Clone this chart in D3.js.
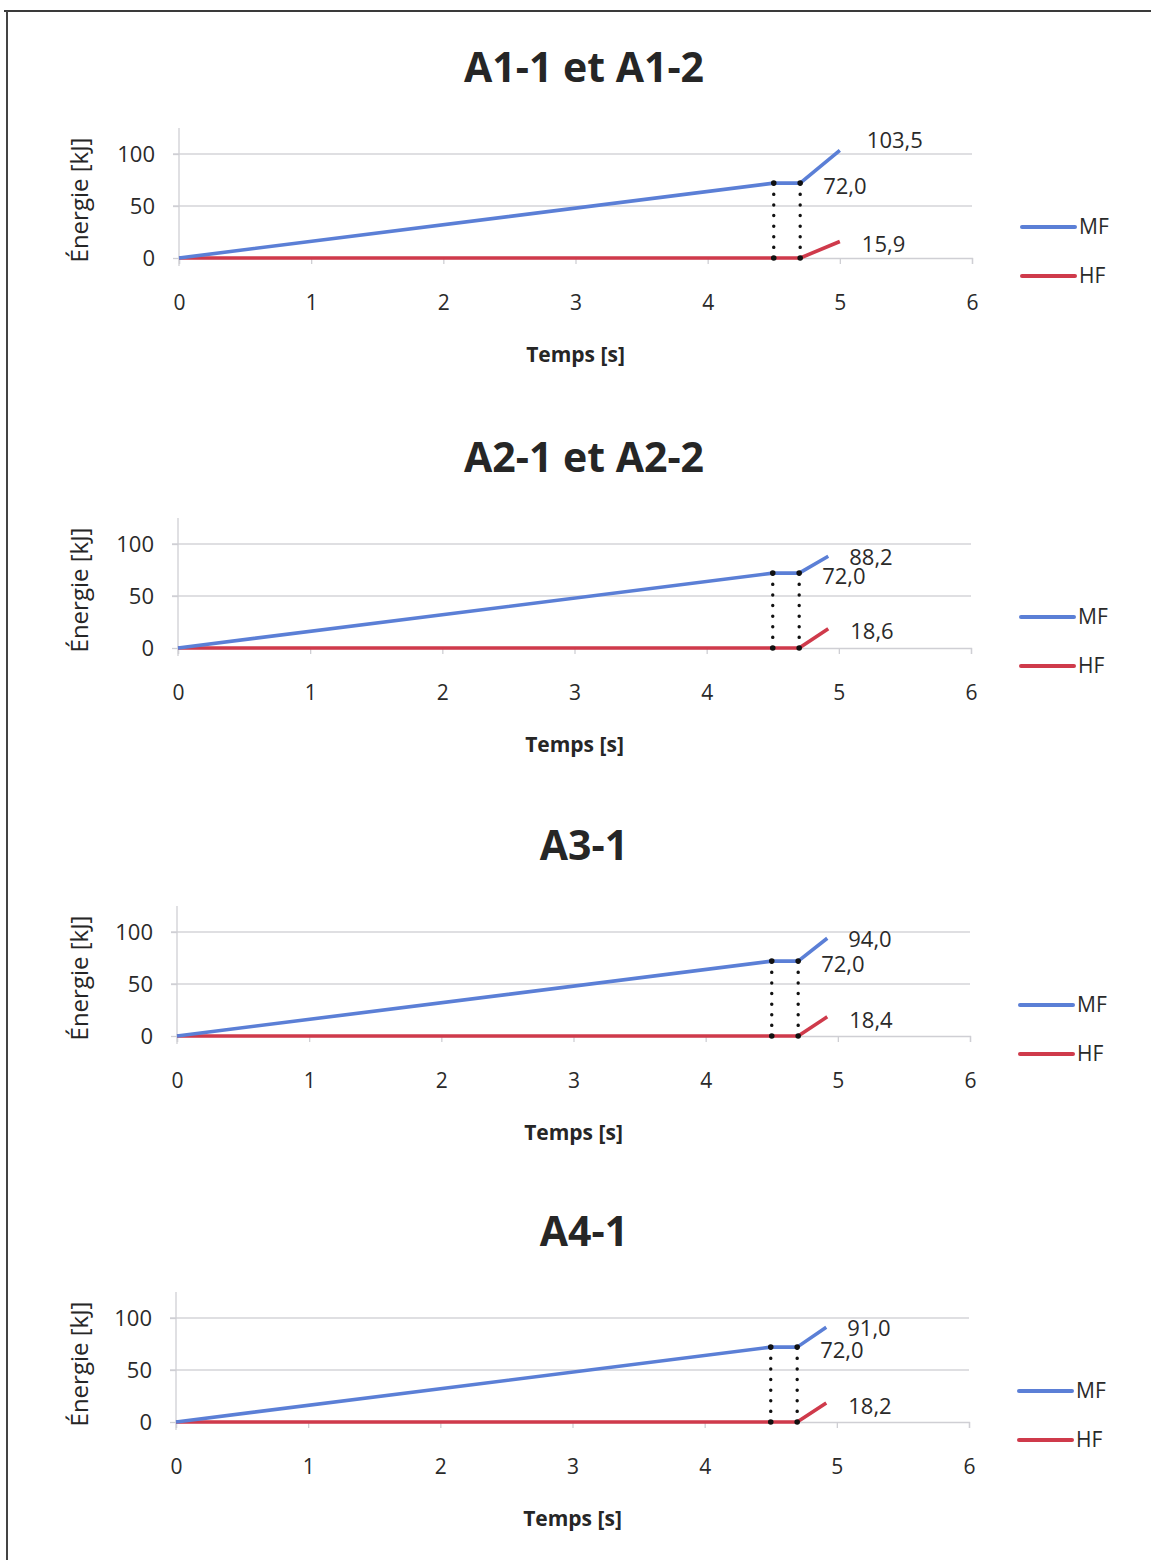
<!DOCTYPE html>
<html>
<head>
<meta charset="utf-8">
<script src="https://cdn.jsdelivr.net/npm/d3@7"></script>
<style>
  body { margin: 0; background: #fff; }
  svg { display: block; font-family: "Open Sans", "Liberation Sans", sans-serif; }
  .tick text { fill: #2a2a2a; }
</style>
</head>
<body>
<svg id="chart" width="1151" height="1560"></svg>
<script>
// Données
const panelTitles = ["A1-1 et A1-2", "A2-1 et A2-2", "A3-1", "A4-1"];
const seriesNames = ["MF", "HF"];
const xTicks = [0, 1, 2, 3, 4, 5, 6];
const yTicks = [0, 50, 100];
const plateauStart = 4.5;
const plateauEnd = 4.7;
const endTimes = [5.0, 4.92, 4.92, 4.92];
const mfValues = [
  [0, 72.0, 72.0, 103.5],
  [0, 72.0, 72.0, 88.2],
  [0, 72.0, 72.0, 94.0],
  [0, 72.0, 72.0, 91.0]
];
const hfValues = [
  [0, 0, 0, 15.9],
  [0, 0, 0, 18.6],
  [0, 0, 0, 18.4],
  [0, 0, 0, 18.2]
];

const colors = { MF: "#5b7fd6", HF: "#cf3a4b" };
const fmt = v => v.toFixed(1).replace(".", ",");

const svg = d3.select("#chart");

// cadre scanné (haut et gauche)
svg.append("line").attr("x1", 4).attr("y1", 11).attr("x2", 1151).attr("y2", 11)
  .attr("stroke", "#3a3a3a").attr("stroke-width", 2);
svg.append("line").attr("x1", 7).attr("y1", 11).attr("x2", 7).attr("y2", 1560)
  .attr("stroke", "#444").attr("stroke-width", 2);

// géométrie de chaque panneau
const layout = [
  { top: 0,    x0: 179, y0: 258 },
  { top: 390,  x0: 178, y0: 648 },
  { top: 778,  x0: 177, y0: 1036 },
  { top: 1164, x0: 176, y0: 1422 }
];

panelTitles.forEach((title, i) => {
  const L = layout[i];
  const x = d3.scaleLinear().domain([0, 6]).range([L.x0, L.x0 + 793]);
  const y = d3.scaleLinear().domain([0, 125]).range([L.y0, L.y0 - 130]);
  const g = svg.append("g");

  const times = [0, plateauStart, plateauEnd, endTimes[i]];

  // titre
  g.append("text")
    .attr("x", 584).attr("y", L.top + 82)
    .attr("text-anchor", "middle")
    .attr("font-size", 41).attr("font-weight", 700)
    .attr("fill", "#262626")
    .text(title);

  // grille horizontale
  g.selectAll(".grid")
    .data(yTicks.filter(d => d > 0))
    .enter().append("line")
    .attr("x1", x(0) - 6).attr("x2", x(6))
    .attr("y1", d => y(d)).attr("y2", d => y(d))
    .attr("stroke", "#d4d4d8").attr("stroke-width", 1.3);

  // axe X
  const xAxis = g.append("g")
    .attr("transform", `translate(0,${y(0)})`)
    .call(d3.axisBottom(x).tickValues(xTicks).tickSize(6).tickPadding(31).tickFormat(d3.format("d")));
  xAxis.select(".domain").attr("stroke", "#cfcfd4").attr("stroke-width", 1.3);
  xAxis.selectAll(".tick line").attr("stroke", "#cfcfd4").attr("stroke-width", 1.3);
  xAxis.selectAll(".tick text").attr("font-size", 21).attr("font-family", "Open Sans");

  // axe Y
  const yAxis = g.append("g")
    .attr("transform", `translate(${x(0)},0)`)
    .call(d3.axisLeft(y).tickValues(yTicks).tickSize(6).tickPadding(18));
  yAxis.select(".domain").attr("stroke", "#cfcfd4").attr("stroke-width", 1.3)
    .attr("d", `M0,${y(0) + 8}V${y(125)}`);
  yAxis.selectAll(".tick line").attr("stroke", "#cfcfd4").attr("stroke-width", 1.3);
  yAxis.selectAll(".tick text").attr("font-size", 22).attr("font-family", "Open Sans");

  // titres d'axes
  g.append("text")
    .attr("x", (x(0) + x(6)) / 2).attr("y", L.y0 + 104)
    .attr("text-anchor", "middle")
    .attr("font-size", 21).attr("font-weight", 700).attr("fill", "#262626")
    .text("Temps [s]");
  g.append("text")
    .attr("transform", `translate(88,${L.y0 - 58}) rotate(-90)`)
    .attr("text-anchor", "middle")
    .attr("font-size", 24).attr("fill", "#262626")
    .text("Énergie [kJ]");

  // lignes pointillées verticales
  [plateauStart, plateauEnd].forEach(t => {
    g.append("line")
      .attr("x1", x(t)).attr("x2", x(t))
      .attr("y1", y(0)).attr("y2", y(mfValues[i][1]))
      .attr("stroke", "#111").attr("stroke-width", 3.4)
      .attr("stroke-linecap", "round")
      .attr("stroke-dasharray", "0.1,10.5");
  });

  // séries
  const line = d3.line().x(d => x(d.t)).y(d => y(d.v));
  [["HF", hfValues[i]], ["MF", mfValues[i]]].forEach(([name, vals]) => {
    g.append("path")
      .datum(vals.map((v, k) => ({ t: times[k], v })))
      .attr("fill", "none")
      .attr("stroke", colors[name])
      .attr("stroke-width", 3.6)
      .attr("stroke-linejoin", "round")
      .attr("d", line);
  });

  // points aux extrémités des pointillés
  [plateauStart, plateauEnd].forEach(t => {
    [0, mfValues[i][1]].forEach(v => {
      g.append("circle").attr("cx", x(t)).attr("cy", y(v)).attr("r", 2.8).attr("fill", "#111");
    });
  });

  // étiquettes de valeurs
  const mfEnd = mfValues[i][3];
  const labels = [
    { t: endTimes[i], v: mfEnd, dx: mfEnd > 100 ? 27 : 21, dy: mfEnd > 100 ? -10 : 1 },
    { t: plateauEnd, v: mfValues[i][2], dx: 23, dy: 3 },
    { t: endTimes[i], v: hfValues[i][3], dx: 22, dy: 3 }
  ];
  g.selectAll(".lbl")
    .data(labels)
    .enter().append("text")
    .attr("x", d => x(d.t) + d.dx)
    .attr("y", d => y(d.v) + d.dy)
    .attr("dy", "0.35em")
    .attr("font-size", 22).attr("fill", "#2a2a2a")
    .text(d => fmt(d.v));

  // légende
  const leg = g.append("g").attr("transform", `translate(${x(6) + 50},${L.y0 - 31})`);
  seriesNames.forEach((name, k) => {
    leg.append("line")
      .attr("x1", 0).attr("x2", 53)
      .attr("y1", k * 49).attr("y2", k * 49)
      .attr("stroke", colors[name]).attr("stroke-width", 4)
      .attr("stroke-linecap", "round");
    leg.append("text")
      .attr("x", 57).attr("y", k * 49).attr("dy", "0.35em")
      .attr("font-size", 21).attr("fill", "#2a2a2a")
      .text(name);
  });
});
</script>
</body>
</html>
